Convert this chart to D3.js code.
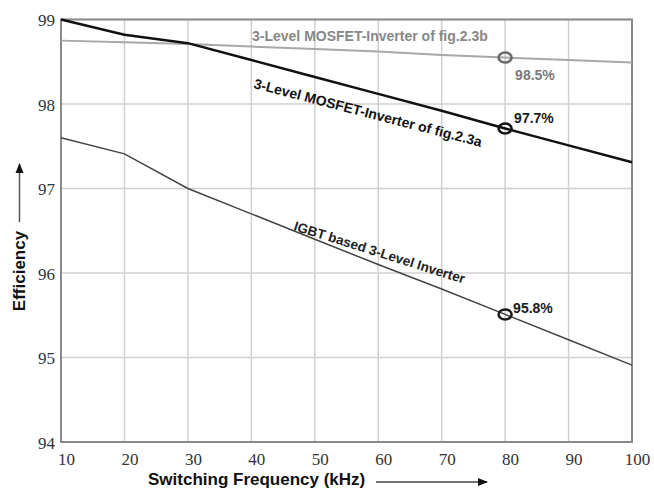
<!DOCTYPE html>
<html>
<head>
<meta charset="utf-8">
<script src="https://cdn.jsdelivr.net/npm/d3@7"></script>
<style>
body { margin: 0; background: #fff; }
svg { display: block; }
</style>
</head>
<body>
<svg width="654" height="488"></svg>
<script>
// switching frequency (kHz)
var freq = [10, 20, 30, 40, 50, 60, 70, 80, 90, 100];
// efficiency (%)
var mosfetB = [98.75, 98.73, 98.71, 98.68, 98.65, 98.62, 98.58, 98.55, 98.52, 98.49];
var mosfetA = [99.0, 98.82, 98.72, 98.52, 98.32, 98.12, 97.92, 97.71, 97.51, 97.31];
var igbt = [97.6, 97.41, 97.0, 96.7, 96.4, 96.1, 95.81, 95.51, 95.21, 94.91];
var xTicks = [10, 20, 30, 40, 50, 60, 70, 80, 90, 100];
var yTicks = [94, 95, 96, 97, 98, 99];
var markFreq = 80;
var markText = ["98.5%", "97.7%", "95.8%"];

var svg = d3.select("svg");
var margin = { top: 19.5, right: 22, bottom: 46, left: 61 };
var W = 654, H = 488;

var x = d3.scaleLinear().domain([10, 100]).range([margin.left, W - margin.right]);
var y = d3.scaleLinear().domain([94, 99]).range([H - margin.bottom, margin.top]);

var serif = "Liberation Serif, Times New Roman, Times, DejaVu Serif, Noto Serif, FreeSerif, serif";
var lab = "Liberation Sans, Arial, sans-serif";

var defs = svg.append("defs");
defs.append("marker")
    .attr("id", "head")
    .attr("viewBox", "0 0 10 10")
    .attr("refX", 9).attr("refY", 5)
    .attr("markerWidth", 10).attr("markerHeight", 10)
    .attr("markerUnits", "userSpaceOnUse")
    .attr("orient", "auto")
    .append("path")
    .attr("d", "M0,1 L10,5 L0,9 Z")
    .attr("fill", "#111");

// grid
svg.append("g")
    .selectAll("line")
    .data(xTicks)
    .enter()
    .append("line")
    .attr("x1", d => x(d)).attr("x2", d => x(d))
    .attr("y1", y(94)).attr("y2", y(99))
    .attr("stroke", "#d0d0d0").attr("stroke-width", 1.5);
svg.append("g")
    .selectAll("line")
    .data(yTicks)
    .enter()
    .append("line")
    .attr("x1", x(10)).attr("x2", x(100))
    .attr("y1", d => y(d)).attr("y2", d => y(d))
    .attr("stroke", "#d0d0d0").attr("stroke-width", 1.5);

// frame
svg.append("rect")
    .attr("x", x(10)).attr("y", y(99))
    .attr("width", x(100) - x(10)).attr("height", y(94) - y(99))
    .attr("fill", "none").attr("stroke", "#8a8a8a").attr("stroke-width", 2);

// tick labels
var xAxis = d3.axisBottom(x).tickValues(xTicks).tickFormat(d3.format("d")).tickSize(0).tickPadding(0);
var gx = svg.append("g").attr("transform", "translate(5," + y(94) + ")").call(xAxis);
gx.select(".domain").remove();
gx.selectAll("text").attr("y", 23).attr("dy", 0);

var yAxis = d3.axisLeft(y).tickValues(yTicks).tickFormat(d3.format("d")).tickSize(0).tickPadding(6);
var gy = svg.append("g").attr("transform", "translate(" + x(10) + ",0)").call(yAxis);
gy.select(".domain").remove();
gy.selectAll("text").attr("dy", "0.36em");

[gx, gy].forEach(function (g) {
    g.attr("font-family", serif).attr("font-size", 17);
    g.selectAll("text")
        .style("font-family", serif)
        .style("font-size", "17px")
        .attr("fill", "#333");
});

// curves
var line = d3.line().x((d, i) => x(freq[i])).y(d => y(d));
var series = [
    { v: mosfetB, color: "#a8a8a8", w: 2, mark: "#6a6a6a", txt: "#7a7a7a" },
    { v: mosfetA, color: "#111", w: 2.5, mark: "#111", txt: "#1a1a1a" },
    { v: igbt, color: "#444", w: 1.5, mark: "#1a1a1a", txt: "#1a1a1a" }
];
svg.selectAll("path.curve")
    .data(series)
    .enter()
    .append("path")
    .attr("class", "curve")
    .attr("d", d => line(d.v))
    .attr("fill", "none")
    .attr("stroke", d => d.color)
    .attr("stroke-width", d => d.w);

// markers at 80 kHz
var mi = freq.indexOf(markFreq);
svg.selectAll("ellipse.mk")
    .data(series)
    .enter()
    .append("ellipse")
    .attr("cx", x(markFreq))
    .attr("cy", d => y(d.v[mi]))
    .attr("rx", 6.5).attr("ry", 5)
    .attr("fill", "none")
    .attr("stroke", d => d.mark)
    .attr("stroke-width", 2.5);

var pctOff = [[10, 22], [9, -6], [8, -1]];
svg.selectAll("text.pct")
    .data(series)
    .enter()
    .append("text")
    .attr("x", (d, i) => x(markFreq) + pctOff[i][0])
    .attr("y", (d, i) => y(d.v[mi]) + pctOff[i][1])
    .attr("font-family", lab).attr("font-size", 14).attr("font-weight", "bold")
    .attr("fill", d => d.txt)
    .text((d, i) => markText[i]);

// curve names
svg.append("text")
    .attr("x", 252).attr("y", 41)
    .attr("font-family", lab).attr("font-size", 14).attr("font-weight", "bold")
    .attr("fill", "#888")
    .text("3-Level MOSFET-Inverter of fig.2.3b");

svg.append("text")
    .attr("transform", "translate(253,88) rotate(14.5)")
    .attr("font-family", lab).attr("font-size", 14).attr("font-weight", "bold")
    .attr("fill", "#111")
    .text("3-Level MOSFET-Inverter of fig.2.3a");

svg.append("text")
    .attr("transform", "translate(293,230) rotate(17.5)")
    .attr("font-family", lab).attr("font-size", 13.5).attr("font-weight", "bold")
    .attr("fill", "#222")
    .text("IGBT based 3-Level Inverter");

// axis titles with arrows
svg.append("text")
    .attr("x", 148).attr("y", 485)
    .attr("font-family", lab).attr("font-size", 17).attr("font-weight", "bold")
    .attr("fill", "#111")
    .text("Switching Frequency (kHz)");
svg.append("line")
    .attr("x1", 376).attr("y1", 482).attr("x2", 487).attr("y2", 482)
    .attr("stroke", "#444").attr("stroke-width", 1.5)
    .attr("marker-end", "url(#head)");

svg.append("text")
    .attr("transform", "translate(25,271) rotate(-90)")
    .attr("text-anchor", "middle")
    .attr("font-family", lab).attr("font-size", 17).attr("font-weight", "bold")
    .attr("fill", "#111")
    .text("Efficiency");
svg.append("line")
    .attr("x1", 19.5).attr("y1", 222).attr("x2", 19.5).attr("y2", 164)
    .attr("stroke", "#555").attr("stroke-width", 1.5)
    .attr("marker-end", "url(#head)");
</script>
</body>
</html>
